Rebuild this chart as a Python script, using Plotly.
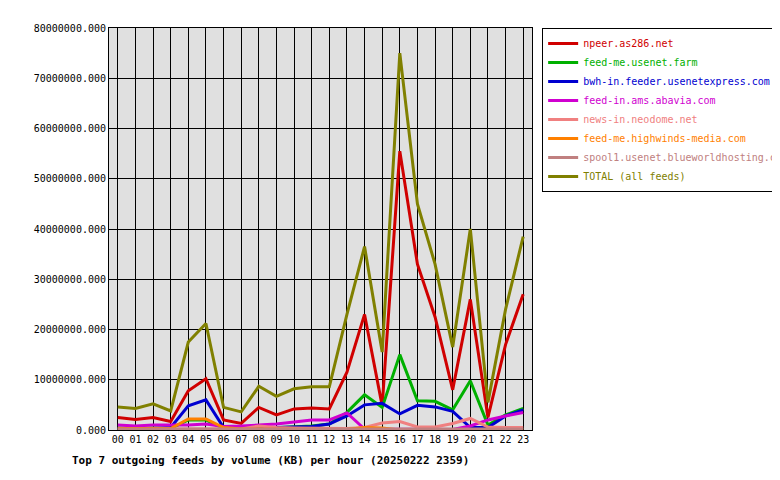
import plotly.graph_objs as go

hours = ['%02d' % h for h in range(24)]

npeer = [2.5, 2.1, 2.5, 1.7, 7.8, 10.2, 2.0, 1.3, 4.5, 3.0, 4.2, 4.4, 4.2, 11.5, 23.0, 4.8,
         55.5, 33.0, 22.5, 8.0, 26.0, 2.5, 17.0, 27.0]
feedme = [0.4, 0.3, 0.4, 0.3, 2.0, 2.0, 0.3, 0.2, 0.3, 0.5, 0.6, 0.8, 1.2, 3.5, 7.0, 4.5,
          15.0, 5.8, 5.7, 4.0, 9.8, 1.0, 3.0, 4.3]
bwh = [0.3, 0.3, 0.3, 0.5, 4.8, 6.0, 0.5, 0.3, 0.1, 0.5, 0.6, 0.7, 1.2, 2.8, 5.0, 5.3,
       3.2, 4.9, 4.6, 3.7, 0.5, 0.5, 2.8, 4.0]
abavia = [1.0, 0.8, 1.0, 1.0, 1.0, 1.2, 0.7, 0.8, 1.0, 1.2, 1.6, 2.0, 2.0, 3.4, 0.2, 0.2,
          0.1, 0.1, 0.1, 0.1, 0.8, 2.0, 2.8, 3.5]
neodome = [0.2, 0.2, 0.2, 0.2, 0.3, 0.3, 0.2, 0.2, 0.8, 0.5, 0.4, 0.4, 0.4, 0.3, 0.5, 1.4,
           1.7, 0.6, 0.6, 1.3, 2.3, 0.6, 0.5, 0.5]
highwinds = [0.3, 0.3, 0.3, 0.3, 2.2, 2.2, 0.5, 0.2, 0.2, 0.2, 0.2, 0.2, 0.2, 0.1, 0.5, 0.4,
             0.0, 0.0, 0.0, 0.0, 0.0, 0.0, 0.0, 0.0]
spool = [0.2] * 24
total = [4.6, 4.3, 5.2, 3.8, 17.5, 21.2, 4.5, 3.6, 8.7, 6.7, 8.2, 8.6, 8.6, 23.0, 36.5, 15.5,
         75.0, 45.0, 33.0, 16.5, 40.0, 5.5, 24.0, 38.5]

series = [
    ('npeer.as286.net', npeer, '#d00000'),
    ('feed-me.usenet.farm', feedme, '#00b000'),
    ('bwh-in.feeder.usenetexpress.com', bwh, '#0000d0'),
    ('feed-in.ams.abavia.com', abavia, '#d000d0'),
    ('news-in.neodome.net', neodome, '#f08080'),
    ('feed-me.highwinds-media.com', highwinds, '#ff8000'),
    ('spool1.usenet.blueworldhosting.com', spool, '#c08080'),
    ('TOTAL (all feeds)', total, '#808000'),
]

fig = go.Figure()
for name, vals, col in series:
    fig.add_trace(go.Scatter(
        x=hours, y=[v * 1e6 for v in vals],
        name="<span style='color:%s'>%s</span>" % (col, name),
        mode='lines', line=dict(color=col, width=3),
    ))

ticks = [i * 1e7 for i in range(9)]
fig.update_layout(
    width=780, height=480,
    margin=dict(l=101, r=256, t=20, b=58, autoexpand=False),
    paper_bgcolor='white', plot_bgcolor='#e0e0e0',
    font=dict(family='DejaVu Sans Mono', size=10, color='black'),
    showlegend=True,
    legend=dict(x=1.024, y=1.0, xanchor='left', yanchor='top', bordercolor='black',
                borderwidth=1, bgcolor='white', font=dict(size=10), itemwidth=30,
                tracegroupgap=0, traceorder='normal'),
    xaxis=dict(showgrid=True, gridcolor='black', gridwidth=1, showline=True,
               linecolor='black', mirror=True, ticks='', range=[-0.5, 23.5],
               automargin=False),
    yaxis=dict(range=[0, 8e7], tickvals=ticks, ticktext=['%d.000' % t for t in ticks],
               showgrid=True, gridcolor='black', showline=True, linecolor='black',
               mirror=True, zeroline=False, automargin=False),
    annotations=[dict(text='<b>Top 7 outgoing feeds by volume (KB) per hour (20250222 2359)</b>',
                      xref='paper', yref='paper', x=-0.092, y=-0.055, xanchor='left',
                      yanchor='top', showarrow=False, font=dict(size=11))],
)
fig.write_html("out.html")
